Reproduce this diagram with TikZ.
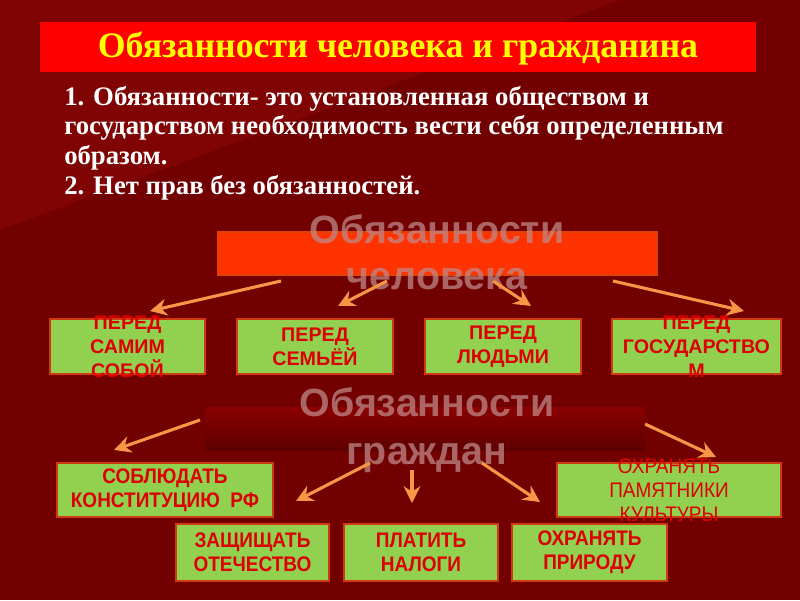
\documentclass[tikz,border=0pt]{standalone}
\usepackage{fontspec}
\setmainfont{Liberation Serif}
\newfontfamily\arial{Liberation Sans}
\usetikzlibrary{arrows.meta}
\definecolor{bgdark}{HTML}{720000}
\definecolor{bglight}{HTML}{8A0808}
\definecolor{titlered}{HTML}{FF0000}
\definecolor{titleyellow}{HTML}{FFFF00}
\definecolor{orangebox}{HTML}{FF3300}
\definecolor{orangeedge}{HTML}{E04000}
\definecolor{greenbox}{HTML}{92D050}
\definecolor{greenedge}{HTML}{D03A10}
\definecolor{boxtext}{HTML}{DD0000}
\definecolor{arrowc}{HTML}{F79646}
\definecolor{ghost}{HTML}{C08888}
\definecolor{citA}{HTML}{8A0000}
\definecolor{citB}{HTML}{5E0000}
\tikzset{
  greenrect/.style={draw=greenedge, line width=1.6pt, fill=greenbox},
  gtext/.style={text=boxtext, font=\arial\bfseries\fontsize{14}{17}\selectfont, align=center},
  ctext/.style={text=boxtext, font=\arial\bfseries\fontsize{15}{17}\selectfont, align=center},
  ghosttext/.style={text=ghost, text opacity=0.75, font=\arial\bfseries\fontsize{28}{33}\selectfont, align=center},
  arr/.style={draw=arrowc, line width=2.2pt, -{Stealth[length=12pt,width=12pt,inset=4pt]}}
}
\newcommand{\nar}[1]{\scalebox{0.9}[1]{#1}}
\begin{document}
\begin{tikzpicture}[x=0.025cm,y=-0.025cm]
\useasboundingbox (0,0) rectangle (800,600);
% background
\fill[bgdark] (0,0) rectangle (800,600);
\fill[bglight, opacity=0.6] (0,0) -- (620,0) -- (0,230) -- cycle;
% title
\node[fill=titlered, minimum width=716*0.025cm, minimum height=50*0.025cm, inner sep=0pt] (title) at (398,47) {};
\node[text=titleyellow, font=\bfseries\fontsize{25.5}{28}\selectfont] (titletext) at (398,48) {Обязанности человека и гражданина};
% body text
\node[anchor=north west, text=white, align=left, inner sep=0pt, font=\bfseries\fontsize{19}{21}\selectfont] (body) at (64,86)
{1. Обязанности- это установленная обществом и\\ государством необходимость вести себя определенным\\ образом.\\ 2. Нет прав без обязанностей.};
% human duties box
\node[fill=orangebox, draw=orangeedge, line width=1pt, minimum width=439*0.025cm, minimum height=43*0.025cm, inner sep=0pt] (human) at (437.5,253.5) {};
\node[ghosttext] (humantext) at (437,252) {Обязанности\\человека};
% green boxes row 1
\node[greenrect, minimum width=155*0.025cm, minimum height=55*0.025cm, inner sep=0pt] (b1) at (127.5,346.5) {};
\node[greenrect, minimum width=156*0.025cm, minimum height=55*0.025cm, inner sep=0pt] (b2) at (315,346.5) {};
\node[greenrect, minimum width=156*0.025cm, minimum height=55*0.025cm, inner sep=0pt] (b3) at (503,346.5) {};
\node[greenrect, minimum width=169*0.025cm, minimum height=55*0.025cm, inner sep=0pt] (b4) at (696.5,346.5) {};
\node[gtext] (t1) at (b1) {ПЕРЕД\\САМИМ\\СОБОЙ};
\node[gtext] (t2) at (b2) {ПЕРЕД\\СЕМЬЁЙ};
\node[gtext] (t3) at (b3) {ПЕРЕД\\ЛЮДЬМИ};
\node[gtext] (t4) at (b4) {ПЕРЕД\\ГОСУДАРСТВО\\М};
% arrows to row 1
\coordinate (h1) at (281,281); \coordinate (h1e) at (150,311);
\coordinate (h2) at (387,281); \coordinate (h2e) at (338,306);
\coordinate (h3) at (493,281); \coordinate (h3e) at (531,306);
\coordinate (h4) at (613,281); \coordinate (h4e) at (744,311);
\draw[arr] (h1) -- (h1e);
\draw[arr] (h2) -- (h2e);
\draw[arr] (h3) -- (h3e);
\draw[arr] (h4) -- (h4e);
% citizens box
\shade[top color=citA, bottom color=citB] (205,407) rectangle (645,450);
\node[minimum width=440*0.025cm, minimum height=43*0.025cm, inner sep=0pt] (citizen) at (425,428.5) {};
\node[ghosttext, font=\arial\bfseries\fontsize{28}{34}\selectfont] (citizentext) at (427,430) {Обязанности\\граждан};
% row 2/3 boxes
\node[greenrect, minimum width=216*0.025cm, minimum height=54*0.025cm, inner sep=0pt] (c1) at (165,490) {};
\node[greenrect, minimum width=224*0.025cm, minimum height=54*0.025cm, inner sep=0pt] (c5) at (669,490) {};
\node[greenrect, minimum width=153*0.025cm, minimum height=57*0.025cm, inner sep=0pt] (c2) at (252.5,552.5) {};
\node[greenrect, minimum width=154*0.025cm, minimum height=57*0.025cm, inner sep=0pt] (c3) at (421,552.5) {};
\node[greenrect, minimum width=155*0.025cm, minimum height=57*0.025cm, inner sep=0pt] (c4) at (589.5,552.5) {};
\node[ctext] (u1) at (c1) {\nar{СОБЛЮДАТЬ}\\\nar{КОНСТИТУЦИЮ\ \ РФ}};
\node[ctext, font=\arial\fontsize{15}{17}\selectfont] (u5) at (c5) {\nar{ОХРАНЯТЬ}\\\nar{ПАМЯТНИКИ}\\\nar{КУЛЬТУРЫ}};
\node[ctext] (u2) at (c2) {\nar{ЗАЩИЩАТЬ}\\\nar{ОТЕЧЕСТВО}};
\node[ctext] (u3) at (c3) {\nar{ПЛАТИТЬ}\\\nar{НАЛОГИ}};
\node[ctext] (u4) at (c4) {\nar{ОХРАНЯТЬ}\\\nar{ПРИРОДУ}};
% arrows to citizen duties
\coordinate (g1) at (200,420); \coordinate (g1e) at (114,450);
\coordinate (g2) at (370,463); \coordinate (g2e) at (296,501);
\coordinate (g3) at (412,470); \coordinate (g3e) at (412,503);
\coordinate (g4) at (482,463); \coordinate (g4e) at (540,502);
\coordinate (g5) at (645,424); \coordinate (g5e) at (716,457);
\draw[arr] (g1) -- (g1e);
\draw[arr] (g2) -- (g2e);
\draw[arr] (g3) -- (g3e);
\draw[arr] (g4) -- (g4e);
\draw[arr] (g5) -- (g5e);
\end{tikzpicture}
\end{document}
